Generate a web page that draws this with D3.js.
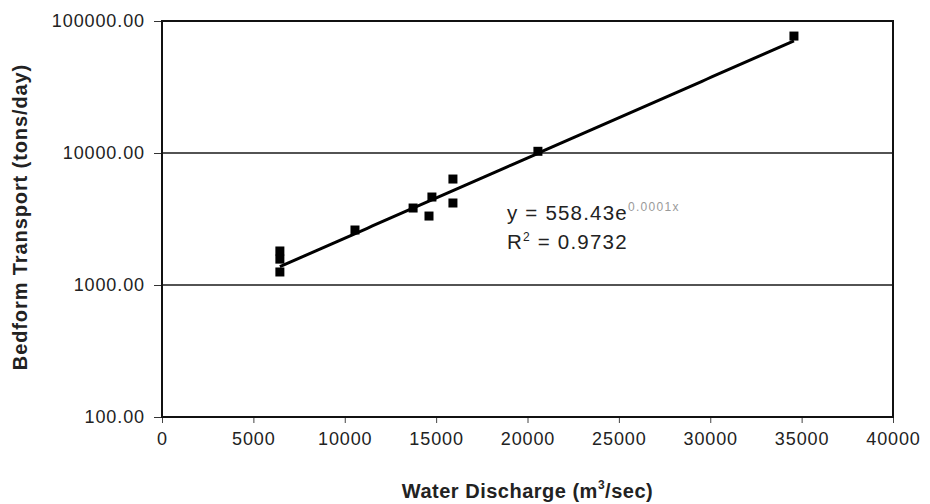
<!DOCTYPE html>
<html>
<head>
<meta charset="utf-8">
<script src="https://cdn.jsdelivr.net/npm/d3@7"></script>
<style>
  html, body { margin: 0; padding: 0; background: #fff; }
  svg { display: block; font-family: "Liberation Sans", Arial, sans-serif; }
</style>
</head>
<body>
<svg id="chart" width="930" height="504"></svg>
<script>
// Water discharge (m³/sec) and bedform transport (tons/day) observations
const discharge = [6450, 6450, 6450, 10560, 13740, 14610, 14770, 15920, 15920, 20570, 34580];
const transport = [1810, 1570, 1255, 2610, 3830, 3330, 4640, 6350, 4180, 10300, 76900];

// Exponential trendline  y = a·e^(b·x)
const trendA = 558.43;
const trendB = 0.00014;
const equationText = "y = 558.43e";
const equationExp = "0.0001x";
const rSquaredText = "0.9732";

const xTicks = [0, 5000, 10000, 15000, 20000, 25000, 30000, 35000, 40000];
const yTicks = [100, 1000, 10000, 100000];

(function draw() {
  const svg = d3.select("#chart");
  const pL = 162, pR = 893, pT = 21, pB = 417;

  const x = d3.scaleLinear().domain([0, 40000]).range([pL, pR]);
  const y = d3.scaleLog().domain([100, 100000]).range([pB, pT]);

  // horizontal gridlines at the inner decades
  svg.append("g")
    .selectAll("line")
    .data(yTicks.filter(d => d > 100 && d < 100000))
    .join("line")
    .attr("x1", pL).attr("x2", pR)
    .attr("y1", d => y(d)).attr("y2", d => y(d))
    .attr("stroke", "#1a1a1a").attr("stroke-width", 1.4);

  // y axis
  const yAxis = svg.append("g")
    .attr("transform", `translate(${pL},0)`)
    .call(d3.axisLeft(y).tickValues(yTicks).tickFormat(d3.format(".2f")).tickSize(8).tickPadding(9));
  yAxis.select(".domain").remove();
  yAxis.selectAll("line").attr("stroke", "#333");
  yAxis.selectAll("text")
    .attr("font-size", 18).attr("fill", "#222")
    .attr("font-family", "'Liberation Sans', Arial, sans-serif")
    .style("letter-spacing", "0.9px");

  // x axis
  const xAxis = svg.append("g")
    .attr("transform", `translate(0,${pB})`)
    .call(d3.axisBottom(x).tickValues(xTicks).tickFormat(d3.format("d")).tickSize(6).tickPadding(9));
  xAxis.select(".domain").remove();
  xAxis.selectAll("line").attr("stroke", "#444");
  xAxis.selectAll("text")
    .attr("font-size", 18).attr("fill", "#222")
    .attr("font-family", "'Liberation Sans', Arial, sans-serif")
    .style("letter-spacing", "0.9px");

  // plot frame
  svg.append("rect")
    .attr("x", pL).attr("y", pT)
    .attr("width", pR - pL).attr("height", pB - pT)
    .attr("fill", "none").attr("stroke", "#111").attr("stroke-width", 2);

  // trendline over the observed discharge range
  const xExtent = d3.extent(discharge);
  const trendPts = d3.range(0, 101).map(i => {
    const xv = xExtent[0] + (xExtent[1] - xExtent[0]) * i / 100;
    return [xv, trendA * Math.exp(trendB * xv)];
  });
  svg.append("path")
    .datum(trendPts)
    .attr("fill", "none").attr("stroke", "#000").attr("stroke-width", 3)
    .attr("d", d3.line().x(d => x(d[0])).y(d => y(d[1])));

  // observations
  const s = 9;
  svg.append("g")
    .selectAll("rect")
    .data(discharge.map((d, i) => [d, transport[i]]))
    .join("rect")
    .attr("x", d => x(d[0]) - s / 2).attr("y", d => y(d[1]) - s / 2)
    .attr("width", s).attr("height", s)
    .attr("fill", "#000");

  // equation and R²
  const eq = svg.append("text")
    .attr("x", 507).attr("y", 220)
    .attr("font-size", 20.5).attr("fill", "#222")
    .style("letter-spacing", "1.2px");
  eq.append("tspan").text(equationText);
  eq.append("tspan").attr("dy", -9).attr("font-size", 12).attr("fill", "#9a9a9a")
    .style("letter-spacing", "1.3px").text(equationExp);

  const r2 = svg.append("text")
    .attr("x", 507).attr("y", 249)
    .attr("font-size", 20.5).attr("fill", "#222")
    .style("letter-spacing", "1.2px");
  r2.append("tspan").text("R");
  r2.append("tspan").attr("dy", -8).attr("font-size", 12).text("2");
  r2.append("tspan").attr("dy", 8).text(" = " + rSquaredText);

  // axis titles
  const xt = svg.append("text")
    .attr("x", (pL + pR) / 2).attr("y", 498)
    .attr("text-anchor", "middle")
    .attr("font-size", 20).attr("font-weight", "bold").attr("fill", "#222")
    .style("letter-spacing", "0.5px");
  xt.append("tspan").text("Water Discharge (m");
  xt.append("tspan").attr("dy", -9).attr("font-size", 12).text("3");
  xt.append("tspan").attr("dy", 9).text("/sec)");

  svg.append("text")
    .attr("transform", `translate(27,${(pT + pB) / 2 - 2}) rotate(-90)`)
    .attr("text-anchor", "middle")
    .attr("font-size", 20).attr("font-weight", "bold").attr("fill", "#222")
    .style("letter-spacing", "0.9px")
    .text("Bedform Transport (tons/day)");
})();
</script>
</body>
</html>
